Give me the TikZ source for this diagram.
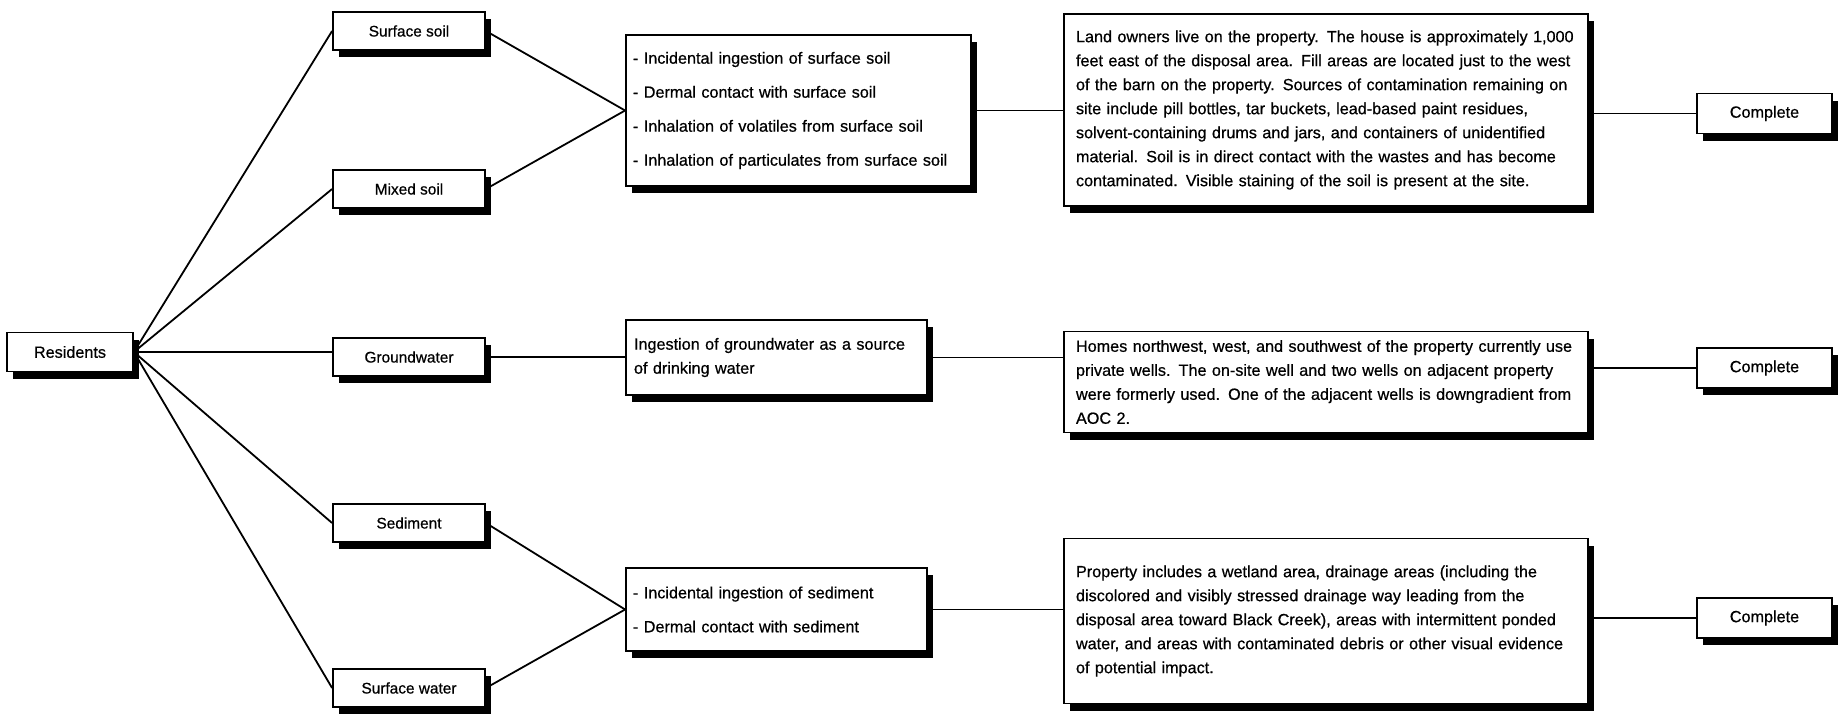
\documentclass[tikz,border=0pt]{standalone}
\usepackage{fontspec}
\setmainfont{Liberation Sans}
\newfontfamily\scanfont{Liberation Sans}[FakeBold=0.6]
\usetikzlibrary{shadows}
\begin{document}
\begin{tikzpicture}[x=0.5pt,y=-0.5pt,
  box/.style={draw, line width=0.9pt, fill=white,
    general shadow={fill=black, shadow xshift=3pt, shadow yshift=-3.5pt},
    font=\scanfont\fontsize{8.1}{12}\selectfont, inner sep=0pt},
  small/.style={box, minimum width=76pt, minimum height=19pt,
    font=\scanfont\fontsize{7.7}{12}\selectfont},
  endbox/.style={box, minimum width=67.5pt, minimum height=20pt},
  listbox/.style={box, align=left, inner xsep=3.5pt},
  bigbox/.style={box, align=left, inner xsep=6pt, text width=250pt, minimum width=262pt},
  conn/.style={line width=0.9pt}]
\useasboundingbox (0,0) rectangle (1844,713);

% first column
\node[box, minimum width=63pt, minimum height=19.5pt] (res) at (70,352) {Residents};

% second column
\node[small] (ss) at (409,31) {Surface soil};
\node[small] (ms) at (409,189) {Mixed soil};
\node[small] (gw) at (409,357) {Groundwater};
\node[small] (sed) at (409,523) {Sediment};
\node[small] (sw) at (409,688) {Surface water};

% third column
\node[listbox, text width=165.5pt, minimum width=172.5pt, minimum height=75.5pt] (b1) at (798.5,110.5)
  {- Incidental ingestion of surface soil\\[5pt]
   - Dermal contact with surface soil\\[5pt]
   - Inhalation of volatiles from surface soil\\[5pt]
   - Inhalation of particulates from surface soil};
\node[listbox, text width=142.5pt, minimum width=150.5pt, minimum height=37.5pt] (ing) at (776.5,357.5)
  {Ingestion of groundwater as a source\\
   of drinking water};
\node[listbox, text width=143.5pt, minimum width=150.5pt, minimum height=41.5pt] (b3) at (776.5,609.5)
  {- Incidental ingestion of sediment\\[5pt]
   - Dermal contact with sediment};

% fourth column
\node[bigbox, minimum height=96pt] (land) at (1326,110)
  {Land owners live on the property.  The house is approximately 1,000\\
   feet east of the disposal area.  Fill areas are located just to the west\\
   of the barn on the property.  Sources of contamination remaining on\\
   site include pill bottles, tar buckets, lead-based paint residues,\\
   solvent-containing drums and jars, and containers of unidentified\\
   material.  Soil is in direct contact with the wastes and has become\\
   contaminated.  Visible staining of the soil is present at the site.};
\node[bigbox, minimum height=50.5pt] (homes) at (1326,382)
  {Homes northwest, west, and southwest of the property currently use\\
   private wells.  The on-site well and two wells on adjacent property\\
   were formerly used.  One of the adjacent wells is downgradient from\\
   AOC 2.};
\node[bigbox, minimum height=82.5pt] (prop) at (1326,621)
  {Property includes a wetland area, drainage areas (including the\\
   discolored and visibly stressed drainage way leading from the\\
   disposal area toward Black Creek), areas with intermittent ponded\\
   water, and areas with contaminated debris or other visual evidence\\
   of potential impact.};

% fifth column
\node[endbox] (c1) at (1764.5,113.5) {Complete};
\node[endbox] (c2) at (1764.5,368) {Complete};
\node[endbox] (c3) at (1764.5,618) {Complete};

% connectors
\draw[conn] (res.east) -- (ss.west);
\draw[conn] (res.east) -- (ms.west);
\draw[conn] (res.east) -- (res.east -| gw.west);
\draw[conn] (res.east) -- (sed.west);
\draw[conn] (res.east) -- (sw.west);

\draw[conn] (ss.east) -- (b1.west);
\draw[conn] (ms.east) -- (b1.west);
\draw[conn] (gw.east) -- (gw.east -| ing.west);
\draw[conn] (sed.east) -- (b3.west);
\draw[conn] (sw.east) -- (b3.west);

\draw[conn] (b1.east) -- (b1.east -| land.west);
\draw[conn] (ing.east) -- (ing.east -| homes.west);
\draw[conn] (b3.east) -- (b3.east -| prop.west);

\draw[conn] (c1.west -| land.east) -- (c1.west);
\draw[conn] (c2.west -| homes.east) -- (c2.west);
\draw[conn] (c3.west -| prop.east) -- (c3.west);
\end{tikzpicture}
\end{document}
